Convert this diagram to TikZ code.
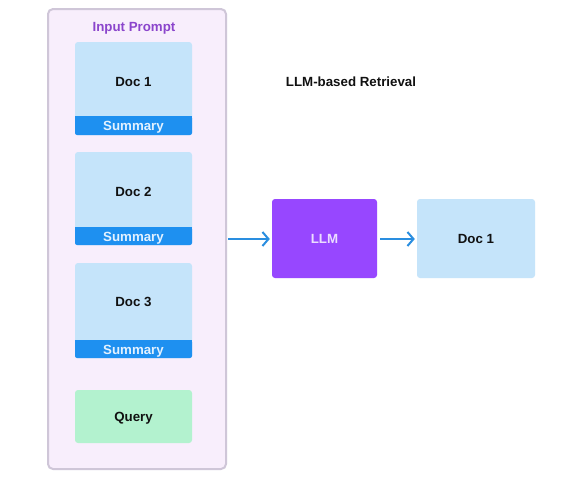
\documentclass[tikz,border=0pt]{standalone}
\usepackage{fontspec}
\setmainfont{Liberation Sans}
\usetikzlibrary{arrows.meta}
\definecolor{outerfill}{HTML}{F8EEFC}
\definecolor{outerdraw}{HTML}{CFC6D8}
\definecolor{docfill}{HTML}{C5E4FA}
\definecolor{sumfill}{HTML}{1E90F0}
\definecolor{sumtext}{HTML}{E2F1FF}
\definecolor{llmfill}{HTML}{9747FF}
\definecolor{llmtext}{HTML}{EBDDFF}
\definecolor{queryfill}{HTML}{B3F2CF}
\definecolor{arrowc}{HTML}{2A8EE0}
\definecolor{purpletext}{HTML}{8B45CC}
\definecolor{darktext}{HTML}{111111}
\begin{document}
\begin{tikzpicture}[x=1pt,y=-1pt,
  lbl/.style={font=\bfseries\fontsize{13.3}{15}\selectfont,text height=9.5pt,text depth=0pt},
  conn/.style={draw=arrowc,line width=2pt,-{Straight Barb[length=6pt,width=14pt,line width=2pt]}}]
\useasboundingbox (0,0) rectangle (566,483);
\fill[white] (0,0) rectangle (566,483);
% outer box
\draw[fill=outerfill,draw=outerdraw,line width=2pt,rounded corners=5pt] (48,9) rectangle (226,469);
\node[lbl,text=purpletext] (ip) at (134,27) {Input Prompt};
% docs
\foreach \i/\t/\b/\s in {1/42/135/116, 2/152/245/227, 3/263/358/340}{
  \fill[docfill,rounded corners=3pt] (75,\t) rectangle (192,\b);
  \fill[sumfill,rounded corners=2pt] (75,\s) rectangle (192,\b);
  \fill[sumfill] (75,\s) rectangle (192,\s+4);
}
\node[lbl,text=darktext] (d1) at (133.5,82) {Doc 1};
\node[lbl,text=sumtext] (s1) at (133.5,126) {Summary};
\node[lbl,text=darktext] (d2) at (133.5,192) {Doc 2};
\node[lbl,text=sumtext] (s2) at (133.5,237) {Summary};
\node[lbl,text=darktext] (d3) at (133.5,302) {Doc 3};
\node[lbl,text=sumtext] (s3) at (133.5,349.5) {Summary};
\node[fill=queryfill,rounded corners=3pt,minimum width=117pt,minimum height=53pt,lbl,text=darktext] (q) at (133.5,416.5) {Query};
% title
\node[lbl,text=darktext] (title) at (351,82) {LLM-based Retrieval};
% LLM and output
\node[fill=llmfill,rounded corners=3pt,minimum width=105pt,minimum height=79pt,lbl,text=llmtext] (llm) at (324.5,238.5) {LLM};
\node[fill=docfill,rounded corners=3pt,minimum width=118pt,minimum height=79pt,lbl,text=darktext] (out) at (476,238.5) {Doc 1};
\coordinate (src) at (228,239);
\draw[conn] (src) -- ([xshift=-2pt]llm.west |- src);
\draw[conn] ([xshift=3pt]llm.east |- src) -- ([xshift=-2pt]out.west |- src);
\end{tikzpicture}
\end{document}
